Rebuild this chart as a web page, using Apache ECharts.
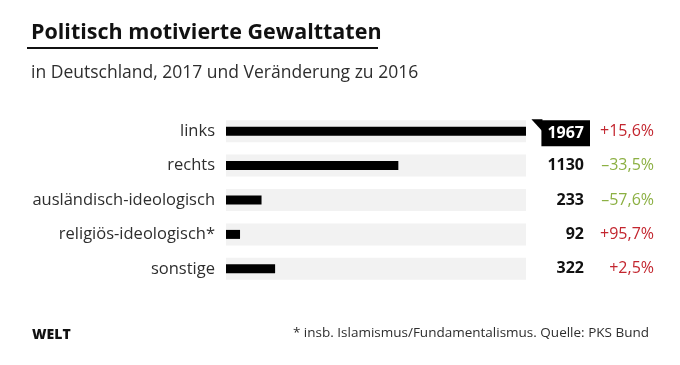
<!DOCTYPE html>
<html><head><meta charset="utf-8">
<script src="https://cdn.jsdelivr.net/npm/echarts@6/dist/echarts.min.js"></script>
<style>html,body{margin:0;padding:0;background:#fff}#c{width:680px;height:365px}</style>
</head><body><div id="c"></div>
<script>
const categories = ['links', 'rechts', 'ausländisch-ideologisch', 'religiös-ideologisch*', 'sonstige'];
const values = [1967, 1130, 233, 92, 322];
const changes = ['+15,6%', '–33,5%', '–57,6%', '+95,7%', '+2,5%'];
const highlightIndex = 0;

(function () {
const FONT = '"Open Sans", Lato, sans-serif';
const maxV = Math.max(...values);
const RED = '#c3262f', GREEN = '#8cb043';

const ctx = document.createElement('canvas').getContext('2d');
function fit(text, weight, target) {
  ctx.font = weight + ' 100px ' + FONT;
  return Math.round(100 * target / ctx.measureText(text).width * 2) / 2;
}
function tw(text, weight, size) {
  ctx.font = weight + ' ' + size + 'px ' + FONT;
  return ctx.measureText(text).width;
}
const titleSize = Math.min(22, fit('Politisch motivierte Gewalttaten', 'bold', 351));
const subSize = Math.min(17.5, fit('in Deutschland, 2017 und Veränderung zu 2016', 'normal', 391));
const catSize = Math.min(16.5, fit('ausländisch-ideologisch', 'normal', 189));
const noteSize = Math.min(14.5, fit('* insb. Islamismus/Fundamentalismus. Quelle: PKS Bund', 'normal', 356));
const pctSize = Math.min(16, fit('+15,6%', 'normal', 56));
const valSize = Math.min(16.5, fit('1967', 'bold', 37));

const chart = echarts.init(document.getElementById('c'), null, {renderer: 'canvas'});
const option = {
  animation: false,
  backgroundColor: '#fff',
  textStyle: {fontFamily: FONT},
  title: [
    {text: 'Politisch motivierte Gewalttaten', left: 26, top: 17,
     textStyle: {fontFamily: FONT, fontSize: titleSize, fontWeight: 'bold', color: '#111'}},
    {text: 'in Deutschland, 2017 und Veränderung zu 2016', left: 26, top: 59,
     textStyle: {fontFamily: FONT, fontSize: subSize, fontWeight: 'normal', color: '#2e2e2e'}},
    {text: 'WELT', left: 27, top: 323,
     textStyle: {fontFamily: FONT, fontSize: 14, fontWeight: 800, color: '#111'}},
    {text: '* insb. Islamismus/Fundamentalismus. Quelle: PKS Bund', right: 26, top: 321,
     textStyle: {fontFamily: FONT, fontSize: noteSize, fontWeight: 'normal', color: '#2e2e2e'}}
  ],
  grid: {left: 226, width: 300, top: 114, height: 172},
  xAxis: {type: 'value', min: 0, max: maxV, show: false},
  yAxis: [{
    type: 'category', data: categories, inverse: true,
    axisLine: {show: false}, axisTick: {show: false},
    axisLabel: {fontFamily: FONT, fontSize: catSize, color: '#2e2e2e', margin: 11}
  }, {
    type: 'category', data: categories, inverse: true, show: false
  }],
  series: [
    {
      type: 'bar', yAxisIndex: 1, barWidth: 22, silent: true, z: 1,
      data: values.map((v, i) => ({
        value: maxV,
        label: i === highlightIndex ? {
          backgroundColor: '#000', color: '#fff', padding: [5, 6, 5, 6], offset: [6, 2]
        } : undefined
      })),
      itemStyle: {color: '#f2f2f2'},
      label: {
        show: true, position: 'right', distance: 58, align: 'right',
        fontFamily: FONT, fontSize: valSize, fontWeight: 'bold', color: '#111',
        formatter: p => String(values[p.dataIndex])
      }
    },
    {
      type: 'bar', yAxisIndex: 0, barWidth: 9, silent: true, z: 3,
      data: values, itemStyle: {color: '#000'}
    },
    {
      type: 'bar', yAxisIndex: 1, barWidth: 22, barGap: '-100%', silent: true, z: 1,
      data: values.map((v, i) => ({
        value: maxV,
        label: {color: changes[i].startsWith('+') ? RED : GREEN}
      })),
      itemStyle: {color: 'rgba(0,0,0,0)'},
      label: {
        show: true, position: 'right', distance: 128, align: 'right',
        fontFamily: FONT, fontSize: pctSize, fontWeight: 'normal',
        formatter: p => changes[p.dataIndex]
      }
    }
  ]
};
chart.setOption(option);

// notch of the highlighted value box
const pt = chart.convertToPixel({gridIndex: 0}, [maxV, highlightIndex]);
const boxW = tw(String(values[highlightIndex]), 'bold', valSize) + 12;
const bx = pt[0] + 58 + 6 - boxW;
const ty = pt[1] + 2 - (valSize * 1.0 + 10) / 2 - 1;
chart.setOption({graphic: [
  {type: 'rect', shape: {x: 27, y: 47, width: 351, height: 2}, style: {fill: '#111'}},
  {type: 'polygon', z: 10, shape: {points: [[bx - 10, ty], [bx + 1, ty], [bx + 1, ty + 12]]}, style: {fill: '#000'}}
]});
})();
</script>
</body></html>
